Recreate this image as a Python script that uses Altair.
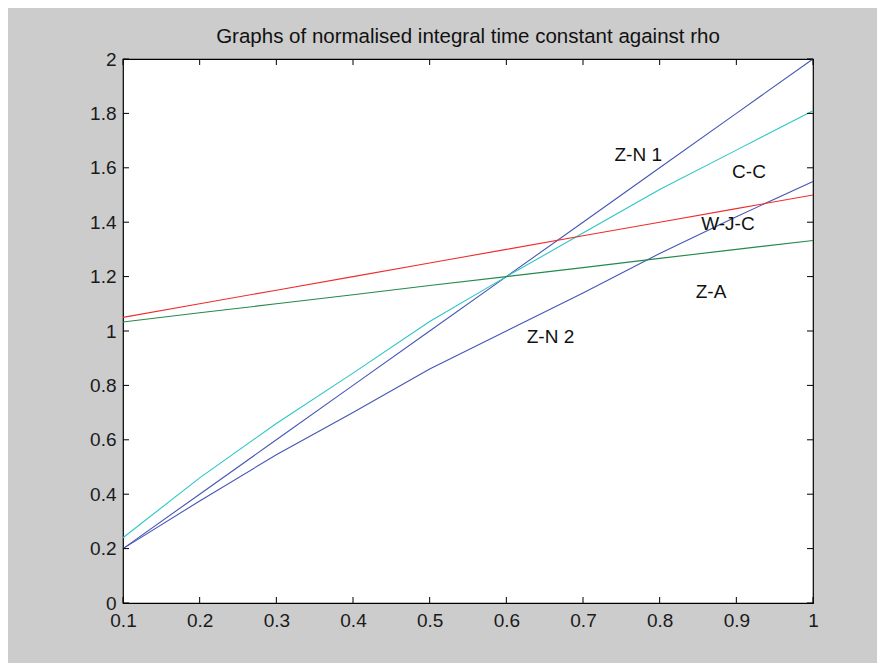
import altair as alt
import pandas as pd

# ---- data ----
rho = [0.1, 0.2, 0.3, 0.4, 0.5, 0.6, 0.7, 0.8, 0.9, 1.0]
zn1 = [0.2, 0.4, 0.6, 0.8, 1.0, 1.2, 1.4, 1.6, 1.8, 2.0]
zn2 = [0.2, 0.375, 0.545, 0.70, 0.86, 1.0, 1.14, 1.285, 1.42, 1.55]
cc = [0.24, 0.46, 0.66, 0.845, 1.035, 1.20, 1.36, 1.52, 1.665, 1.81]
wjc = [1.05, 1.10, 1.15, 1.20, 1.25, 1.30, 1.35, 1.40, 1.45, 1.50]
za = [1.033, 1.067, 1.10, 1.133, 1.167, 1.20, 1.233, 1.267, 1.30, 1.333]

series_names = ["Z-N 1", "Z-N 2", "C-C", "W-J-C", "Z-A"]
series_values = [zn1, zn2, cc, wjc, za]
series_colors = ["#4656b4", "#4656b4", "#2cc6c6", "#f02c2c", "#24894a"]

label_text = ["Z-N 1", "C-C", "W-J-C", "Z-A", "Z-N 2"]
label_x = [0.772, 0.9165, 0.889, 0.867, 0.6576]
label_y = [1.647, 1.586, 1.392, 1.145, 0.979]

x_ticks = [0.1, 0.2, 0.3, 0.4, 0.5, 0.6, 0.7, 0.8, 0.9, 1.0]
y_ticks = [0, 0.2, 0.4, 0.6, 0.8, 1.0, 1.2, 1.4, 1.6, 1.8, 2.0]

title = "Graphs of normalised integral time constant against rho"

# ---- tables ----
rows = []
for name, vals in zip(series_names, series_values):
    for r, v in zip(rho, vals):
        rows.append({"rho": r, "value": v, "series": name})
df = pd.DataFrame(rows)
labels = pd.DataFrame({"text": label_text, "x": label_x, "y": label_y})
xt = pd.DataFrame({"t": x_ticks})
yt = pd.DataFrame({"t": y_ticks})

W, H = 690, 544
FONT = "Liberation Sans"
FS = 19

xscale = alt.Scale(domain=[0.1, 1.0], nice=False, zero=False)
yscale = alt.Scale(domain=[0, 2], nice=False, zero=False)

xaxis = alt.Axis(values=x_ticks, format=".1~f", ticks=False, domain=False, grid=False,
                 labelPadding=8, labelFontSize=FS, labelColor="#1a1a1a", labelFont=FONT,
                 title=None, labelFlush=False, labelOverlap=False)
yaxis = alt.Axis(values=y_ticks, format=".1~f", ticks=False, domain=False, grid=False,
                 labelPadding=7, labelFontSize=FS, labelColor="#1a1a1a", labelFont=FONT,
                 title=None, labelFlush=False, labelOverlap=False)

lines = alt.Chart(df).mark_line(strokeWidth=1.1).encode(
    x=alt.X("rho:Q", scale=xscale, axis=xaxis),
    y=alt.Y("value:Q", scale=yscale, axis=yaxis),
    color=alt.Color("series:N", scale=alt.Scale(domain=series_names, range=series_colors), legend=None),
    detail="series:N",
)

texts = alt.Chart(labels).mark_text(fontSize=FS, font=FONT, color="#111111").encode(
    x=alt.X("x:Q", scale=xscale, axis=xaxis),
    y=alt.Y("y:Q", scale=yscale, axis=yaxis),
    text="text:N",
)

tk = 6
xbot = alt.Chart(xt).mark_rule(color="black", strokeWidth=1).encode(
    x=alt.X("t:Q", scale=xscale, axis=xaxis), y=alt.value(H), y2=alt.value(H - tk))
xtop = alt.Chart(xt).mark_rule(color="black", strokeWidth=1).encode(
    x=alt.X("t:Q", scale=xscale, axis=xaxis), y=alt.value(0), y2=alt.value(tk))
yleft = alt.Chart(yt).mark_rule(color="black", strokeWidth=1).encode(
    y=alt.Y("t:Q", scale=yscale, axis=yaxis), x=alt.value(0), x2=alt.value(tk))
yright = alt.Chart(yt).mark_rule(color="black", strokeWidth=1).encode(
    y=alt.Y("t:Q", scale=yscale, axis=yaxis), x=alt.value(W), x2=alt.value(W - tk))

chart = alt.layer(lines, texts, xbot, xtop, yleft, yright).properties(
    width=W, height=H,
    title=alt.TitleParams(title, fontSize=20.5, font=FONT, fontWeight="normal",
                          color="#111111", offset=3, anchor="middle"),
    autosize=alt.AutoSizeParams(type="none"),
    padding={"left": 115, "top": 51, "right": 64, "bottom": 60},
    background="#cccccc",
).configure_view(stroke="black", strokeWidth=1.2, fill="white")

chart.save("out.html", embed_options={"renderer": "svg", "actions": False})
